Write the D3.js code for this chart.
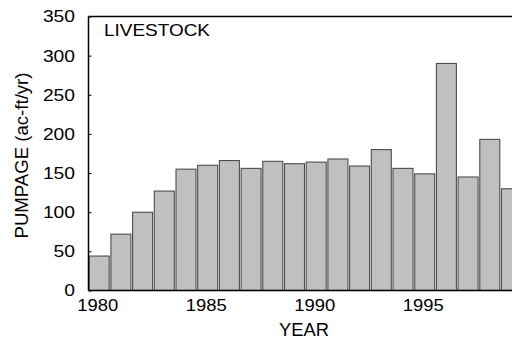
<!DOCTYPE html>
<html>
<head>
<meta charset="utf-8">
<script src="https://cdn.jsdelivr.net/npm/d3@7"></script>
<style>
html,body{margin:0;padding:0;background:#fff;overflow:hidden;}
svg{display:block;}
text{font-family:"Liberation Sans",Arial,Helvetica,sans-serif;fill:#000;}
</style>
</head>
<body>
<svg id="chart" width="512" height="339"></svg>
<script>
const years = [1980,1981,1982,1983,1984,1985,1986,1987,1988,1989,1990,1991,1992,1993,1994,1995,1996,1997,1998,1999];
const pumpage = [44,72,100,127,155,160,166,156,165,162,164,168,159,180,156,149,290,145,193,130];
const yTicks = [0,50,100,150,200,250,300,350];
const xTicks = [1980,1985,1990,1995];
const panelTitle = "LIVESTOCK";
const xTitle = "YEAR";
const yTitle = "PUMPAGE (ac-ft/yr)";

(function () {
const svg = d3.select("#chart");
const mLeft = 88.5, mTop = 16.5, mBottom = 290.5, mRight = 520;

const x = d3.scaleLinear().domain([1980, 1999]).range([99.2, 99.2 + 19 * 21.7]);
const y = d3.scaleLinear().domain([0, 350]).range([mBottom, mTop]);
const barW = 20;

// bars
svg.append("g").selectAll("rect").data(years).join("rect")
  .attr("x", (d) => x(d) - barW / 2)
  .attr("width", barW)
  .attr("y", (d, i) => y(pumpage[i]))
  .attr("height", (d, i) => mBottom - y(pumpage[i]))
  .attr("fill", "#c0c0c0")
  .attr("stroke", "#4d4d4d")
  .attr("stroke-width", 1.1);

// y axis (ticks inward)
const yAxis = d3.axisRight(y).tickValues(yTicks).tickSize(3).tickFormat("");
const gy = svg.append("g").attr("transform", `translate(${mLeft},0)`).call(yAxis);
gy.select(".domain").remove();
gy.selectAll("line").attr("stroke", "#000").attr("stroke-width", 1);

// y tick labels
svg.append("g").selectAll("text").data(yTicks).join("text")
  .attr("x", 75)
  .attr("y", (d) => y(d))
  .attr("dy", "0.36em")
  .attr("text-anchor", "end")
  .attr("font-size", 16.5)
  .attr("textLength", (d) => String(d).length * 10.7)
  .attr("lengthAdjust", "spacingAndGlyphs")
  .text((d) => d);

// x tick labels
svg.append("g").selectAll("text").data(xTicks).join("text")
  .attr("x", (d) => x(d) - 1.5)
  .attr("y", 310.5)
  .attr("text-anchor", "middle")
  .attr("font-size", 17)
  .attr("textLength", 41)
  .attr("lengthAdjust", "spacingAndGlyphs")
  .text((d) => d);

// frame lines
svg.append("line").attr("x1", mLeft).attr("x2", mLeft).attr("y1", mTop).attr("y2", mBottom)
  .attr("stroke", "#000").attr("stroke-width", 1.5);
svg.append("line").attr("x1", mLeft).attr("x2", mRight).attr("y1", mBottom).attr("y2", mBottom)
  .attr("stroke", "#000").attr("stroke-width", 1.5);
svg.append("line").attr("x1", mLeft).attr("x2", mRight).attr("y1", mTop).attr("y2", mTop)
  .attr("stroke", "#000").attr("stroke-width", 1.5);

// panel title
svg.append("text").attr("x", 104).attr("y", 35.8)
  .attr("font-size", 17)
  .attr("textLength", 106).attr("lengthAdjust", "spacingAndGlyphs")
  .text(panelTitle);

// x title
svg.append("text").attr("x", 304).attr("y", 335.5)
  .attr("text-anchor", "middle")
  .attr("font-size", 17.5)
  .attr("textLength", 50).attr("lengthAdjust", "spacingAndGlyphs")
  .text(xTitle);

// y title
svg.append("text")
  .attr("transform", "translate(28,155.5) rotate(-90)")
  .attr("text-anchor", "middle")
  .attr("font-size", 17.5)
  .attr("textLength", 166).attr("lengthAdjust", "spacingAndGlyphs")
  .text(yTitle);
})();
</script>
</body>
</html>
